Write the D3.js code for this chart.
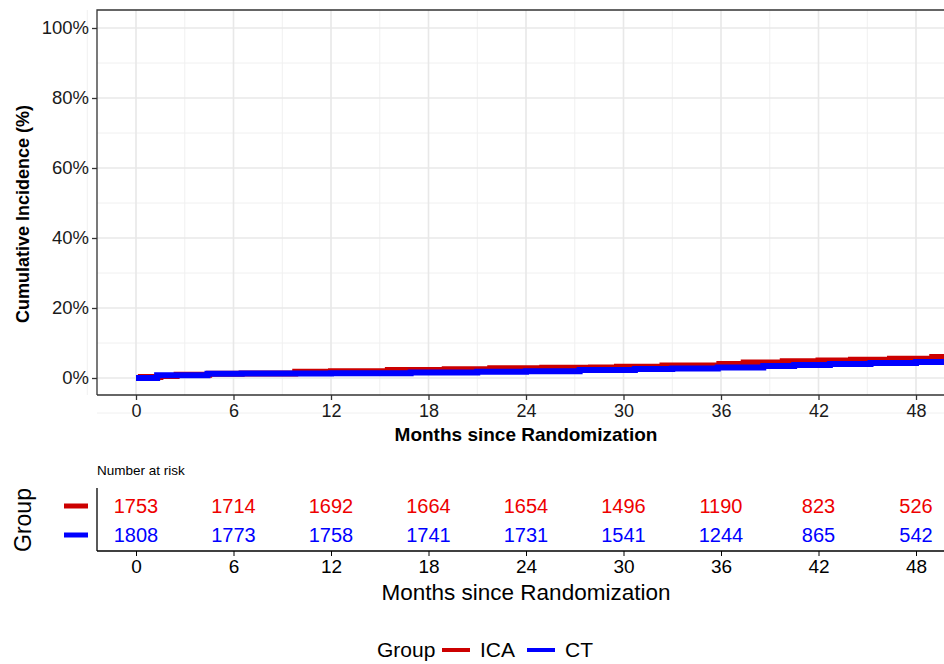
<!DOCTYPE html>
<html>
<head>
<meta charset="utf-8">
<script src="https://cdn.jsdelivr.net/npm/d3@7"></script>
<style>
  body { margin: 0; background: #fff; }
  text { font-family: "Liberation Sans", Arial, sans-serif; }
</style>
</head>
<body>
<div id="chart"></div>
<script>
// data (months, cumulative incidence in %)
var icaTimes = [0, 0.3, 1.5, 2.5, 4.5, 6.5, 9.8, 12, 15.5, 19, 21.8, 25, 28, 29.6, 32.4, 35.9, 37.4, 39.8, 42, 44, 46.4, 49, 50];
var icaValues = [0, 0.3, 0.6, 0.9, 1.2, 1.3, 1.8, 1.9, 2.3, 2.5, 2.8, 2.9, 3.0, 3.2, 3.6, 4.0, 4.4, 4.8, 5.0, 5.2, 5.5, 6.0, 6.0];
var ctTimes = [0, 1.3, 4.4, 6.5, 12, 16.9, 21, 24, 27.3, 30.7, 33, 35.8, 38.6, 40.5, 42.7, 45.2, 48, 50];
var ctValues = [0, 0.8, 1.2, 1.3, 1.35, 1.6, 1.8, 1.9, 2.3, 2.6, 2.7, 3.0, 3.4, 3.7, 4.0, 4.3, 4.6, 4.6];

var riskTimes = [0, 6, 12, 18, 24, 30, 36, 42, 48];
var icaRisk = [1753, 1714, 1692, 1664, 1654, 1496, 1190, 823, 526];
var ctRisk = [1808, 1773, 1758, 1741, 1731, 1541, 1244, 865, 542];

var groups = ["ICA", "CT"];
var lineColors = ["#cc0000", "#0000ff"];
var textColors = ["#ee0000", "#0000ff"];
var yTicks = [0, 20, 40, 60, 80, 100];

var svgWidth = 944, svgHeight = 664;
var svg = d3.select("#chart").append("svg")
    .attr("width", svgWidth)
    .attr("height", svgHeight);

// main panel
var panel = { left: 97, top: 10, right: 960, bottom: 395 };
var x = d3.scaleLinear().domain([0, 48]).range([136, 916]);
var y = d3.scaleLinear().domain([0, 100]).range([378, 28]);

var grid = svg.append("g");
var minorX = d3.range(-3, 52, 6), minorY = d3.range(-10, 110, 20);
grid.selectAll(".mx").data(minorX).enter().append("line")
    .attr("x1", d => x(d)).attr("x2", d => x(d))
    .attr("y1", panel.top).attr("y2", panel.bottom)
    .attr("stroke", "#f0f0f0").attr("stroke-width", 1);
grid.selectAll(".my").data(minorY).enter().append("line")
    .attr("x1", panel.left).attr("x2", panel.right)
    .attr("y1", d => y(d)).attr("y2", d => y(d))
    .attr("stroke", "#f0f0f0").attr("stroke-width", 1);
grid.selectAll(".gx").data(riskTimes).enter().append("line")
    .attr("x1", d => x(d)).attr("x2", d => x(d))
    .attr("y1", panel.top).attr("y2", panel.bottom)
    .attr("stroke", "#e8e8e8").attr("stroke-width", 1.6);
grid.selectAll(".gy").data(yTicks).enter().append("line")
    .attr("x1", panel.left).attr("x2", panel.right)
    .attr("y1", d => y(d)).attr("y2", d => y(d))
    .attr("stroke", "#e8e8e8").attr("stroke-width", 1.6);

// step curves
var line = d3.line().x(d => x(d[0])).y(d => y(d[1])).curve(d3.curveStepAfter);
var series = [d3.zip(icaTimes, icaValues), d3.zip(ctTimes, ctValues)];
series.forEach(function(s, i) {
  svg.append("path")
    .datum(s)
    .attr("d", line)
    .attr("fill", "none")
    .attr("stroke", lineColors[i])
    .attr("stroke-width", 6);
});

// panel border (top + left)
svg.append("path")
    .attr("d", `M${panel.right},${panel.top}H${panel.left}V${panel.bottom}`)
    .attr("fill", "none").attr("stroke", "#333").attr("stroke-width", 1.3);

// axes
var yAxis = d3.axisLeft(y).tickValues(yTicks).tickFormat(d => d + "%").tickSize(5).tickPadding(3);
var yg = svg.append("g").attr("transform", `translate(${panel.left},0)`).call(yAxis);
yg.select(".domain").remove();
yg.selectAll(".tick line").attr("stroke", "#333").attr("stroke-width", 1.3);
yg.selectAll("text").attr("fill", "#1a1a1a").style("font-size", "18.5px");

var xAxis = d3.axisBottom(x).tickValues(riskTimes).tickSize(5).tickPadding(4);
var xg = svg.append("g").attr("transform", `translate(0,${panel.bottom})`).call(xAxis);
xg.select(".domain").attr("d", `M${panel.left},0H${panel.right}`).attr("stroke", "#333").attr("stroke-width", 1.3);
xg.selectAll(".tick line").attr("stroke", "#333").attr("stroke-width", 1.3);
xg.selectAll("text").attr("fill", "#1a1a1a").style("font-size", "18px");

svg.append("text")
    .attr("x", 526).attr("y", 441)
    .attr("text-anchor", "middle")
    .style("font-size", "19px").style("font-weight", "bold")
    .text("Months since Randomization");

svg.append("text")
    .attr("transform", "translate(29,214) rotate(-90)")
    .attr("text-anchor", "middle")
    .style("font-size", "18px").style("font-weight", "bold")
    .text("Cumulative Incidence (%)");

// number at risk table
svg.append("text")
    .attr("x", 97).attr("y", 475)
    .style("font-size", "13.5px")
    .text("Number at risk");

var rowY = d3.scalePoint().domain(groups).range([506, 535]);
var risks = [icaRisk, ctRisk];
groups.forEach(function(g, i) {
  svg.append("g").selectAll("text")
    .data(d3.zip(riskTimes, risks[i]))
    .enter().append("text")
    .attr("x", d => x(d[0]))
    .attr("y", rowY(g))
    .attr("dy", "0.35em")
    .attr("text-anchor", "middle")
    .attr("fill", textColors[i])
    .style("font-size", "20px")
    .text(d => d[1]);
  svg.append("line")
    .attr("x1", 64).attr("x2", 88)
    .attr("y1", rowY(g)).attr("y2", rowY(g))
    .attr("stroke", lineColors[i]).attr("stroke-width", 5);
});

svg.append("line")
    .attr("x1", panel.left).attr("x2", panel.left)
    .attr("y1", 488).attr("y2", 551)
    .attr("stroke", "#000").attr("stroke-width", 1.3);

var tAxis = d3.axisBottom(x).tickValues(riskTimes).tickSize(5).tickPadding(4);
var tg = svg.append("g").attr("transform", "translate(0,551)").call(tAxis);
tg.select(".domain").attr("d", `M${panel.left},0H${panel.right}`).attr("stroke", "#000").attr("stroke-width", 1.3);
tg.selectAll(".tick line").attr("stroke", "#000");
tg.selectAll("text").attr("fill", "#000").style("font-size", "19px");

svg.append("text")
    .attr("x", 526).attr("y", 600)
    .attr("text-anchor", "middle")
    .style("font-size", "22.5px")
    .text("Months since Randomization");

svg.append("text")
    .attr("transform", "translate(31,520) rotate(-90)")
    .attr("text-anchor", "middle")
    .style("font-size", "23px")
    .text("Group");

// legend
var legend = svg.append("g").attr("transform", "translate(0,650)");
legend.append("text").attr("x", 377).attr("dy", "0.35em").style("font-size", "21px").text("Group");
var keyX = d3.scalePoint().domain(groups).range([442, 527]);
groups.forEach(function(g, i) {
  legend.append("line")
    .attr("x1", keyX(g)).attr("x2", keyX(g) + 28)
    .attr("stroke", lineColors[i]).attr("stroke-width", 4);
  legend.append("text")
    .attr("x", keyX(g) + 38).attr("dy", "0.35em")
    .style("font-size", "21px")
    .text(g);
});
</script>
</body>
</html>
